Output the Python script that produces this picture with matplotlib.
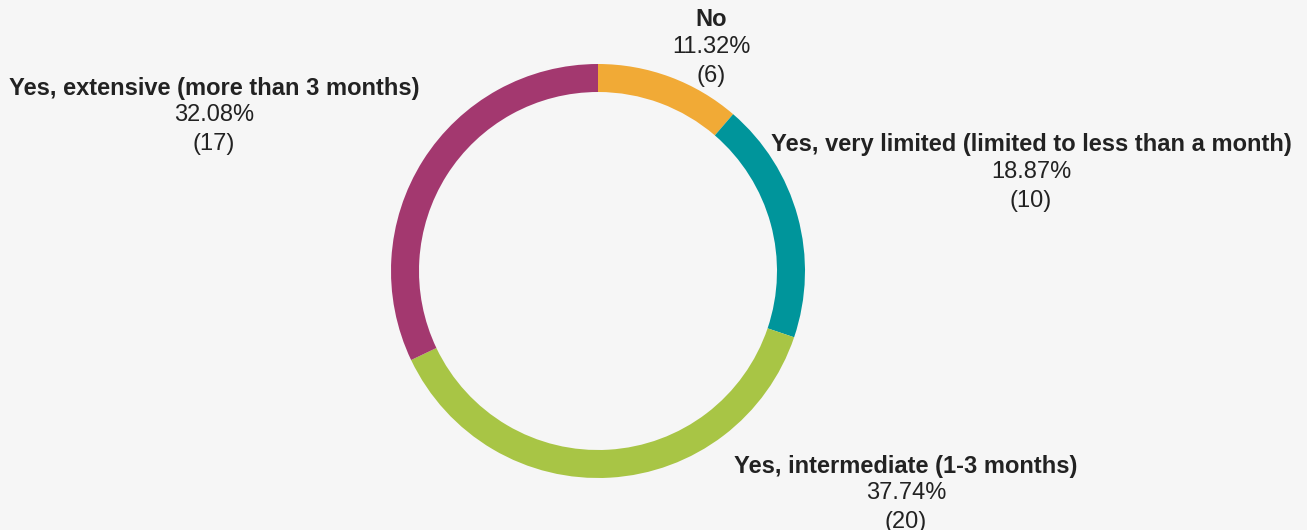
import matplotlib.pyplot as plt

labels = ['No', 'Yes, very limited (limited to less than a month)',
          'Yes, intermediate (1-3 months)', 'Yes, extensive (more than 3 months)']
counts = [6, 10, 20, 17]
colors = ['#F1AA36', '#00959B', '#A8C545', '#A3386F']
# where each label block sits (centre x, centre of first line), in pixels
label_pos = [(711, 20), (1031, 145), (906, 466), (214, 88)]

W, H = 1307, 530
plt.rcParams['font.family'] = ['Liberation Sans', 'DejaVu Sans']

fig = plt.figure(figsize=(W / 100, H / 100), dpi=100)
fig.patch.set_facecolor('#F6F6F6')
ax = fig.add_axes([0, 0, 1, 1])
ax.set_facecolor('#F6F6F6')

ax.pie(counts, colors=colors, startangle=90, counterclock=False,
       center=(598, H - 271), radius=207,
       wedgeprops=dict(width=28, linewidth=0))
ax.set_xlim(0, W)
ax.set_ylim(0, H)
ax.set_aspect('equal')
ax.axis('off')

total = sum(counts)
for lab, n, (x, y) in zip(labels, counts, label_pos):
    pct = 100 * n / total
    ax.text(x, H - y, lab, ha='center', va='center', fontsize=17,
            fontweight='bold', color='#222222')
    ax.text(x, H - y - 27, f'{pct:.2f}%', ha='center', va='center',
            fontsize=17, color='#222222')
    ax.text(x, H - y - 56, f'({n})', ha='center', va='center',
            fontsize=17, color='#222222')

fig.savefig('out.png', dpi=100, facecolor=fig.get_facecolor())
